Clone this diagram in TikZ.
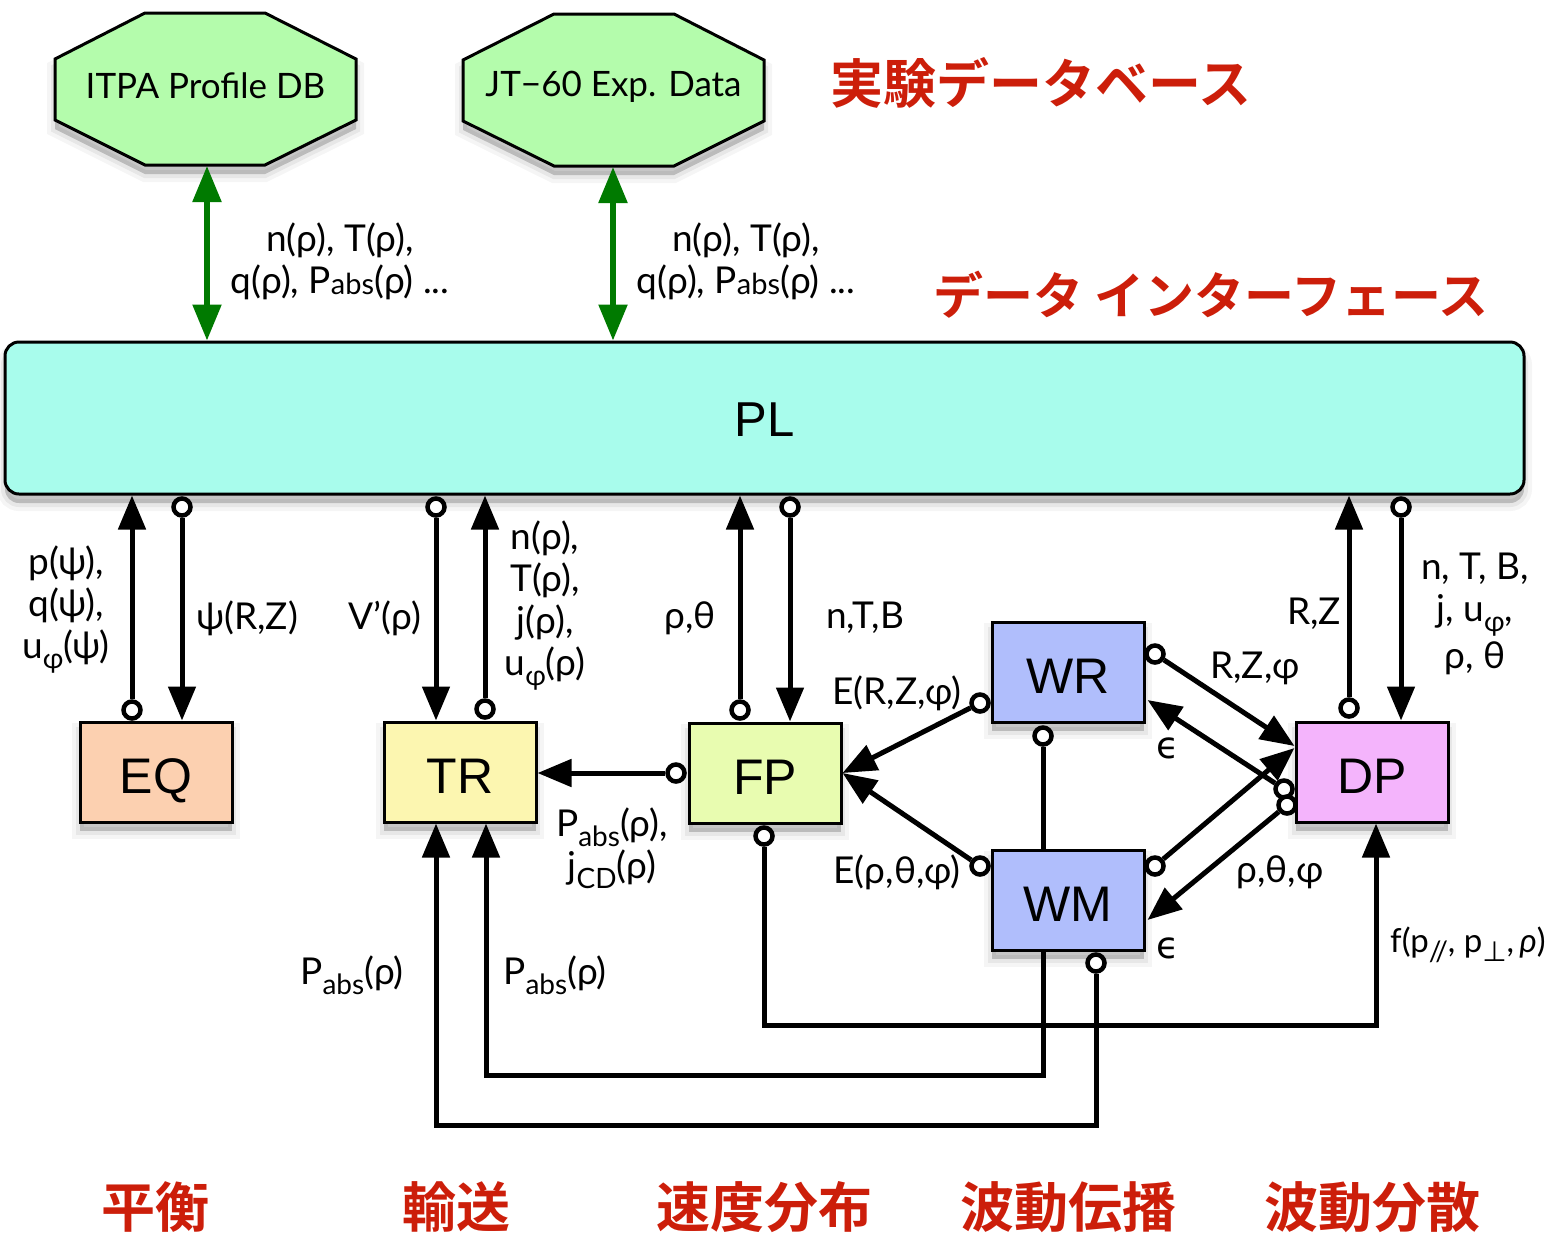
\documentclass[tikz,border=0pt]{standalone}
\usepackage{fontspec}
\setmainfont{Lato}
\newfontfamily\dvs{DejaVu Sans}
\newfontfamily\arialf{Liberation Sans}
\newfontfamily\jp{Noto Sans CJK JP Bold}
\usetikzlibrary{arrows.meta,shadows,calc}

\definecolor{plc}{RGB}{168,252,236}
\definecolor{eqc}{RGB}{252,208,176}
\definecolor{trc}{RGB}{252,246,176}
\definecolor{fpc}{RGB}{232,252,176}
\definecolor{wrc}{RGB}{176,190,252}
\definecolor{dpc}{RGB}{244,180,252}
\definecolor{octc}{RGB}{180,252,172}
\definecolor{jred}{RGB}{204,30,10}
\definecolor{dgreen}{RGB}{0,122,0}

\newcommand\lblf{\fontsize{37}{42}\selectfont}
\newcommand\boxf{\arialf\fontsize{50}{60}\selectfont}
\newcommand\jpf{\jp\fontsize{53}{60}\selectfont}
\newcommand\sbs[1]{\raisebox{-0.27em}{\fontsize{28}{28}\selectfont #1}}
\newcommand\smb[1]{\raisebox{-0.04em}{\fontsize{29}{29}\selectfont #1}}

\tikzset{
  softshadow/.style={
    general shadow={shadow xshift=0pt, shadow yshift=-9pt, fill=black, draw=black, line width=16pt, opacity=0.04},
    general shadow={shadow xshift=0pt, shadow yshift=-9pt, fill=black, draw=black, line width=8pt, opacity=0.06},
    general shadow={shadow xshift=0pt, shadow yshift=-9pt, fill=black, opacity=0.10}},
  lbl/.style={font=\lblf, align=center, inner sep=0pt},
  boxnode/.style={draw, line width=3pt, minimum width=152pt, minimum height=100pt, inner sep=0pt,
    font=\boxf, text height=42pt, text depth=0pt, softshadow},
  port/.style={circle, draw, fill=white, line width=4.5pt, minimum size=17pt, inner sep=0pt},
  arr/.style={line width=5pt, -{Triangle[length=34pt,width=27pt]}},
  link/.style={line width=5pt},
  garr/.style={line width=5.5pt, draw=dgreen, fill=dgreen, {Triangle[length=36pt,width=28pt]}-{Triangle[length=36pt,width=28pt]}},
  jlab/.style={font=\jpf, text=jred, inner sep=0pt},
  octtext/.style={font=\fontsize{35}{40}\selectfont, inner sep=0pt},
}

\begin{document}
\begin{tikzpicture}[x=1pt,y=-1pt]
\useasboundingbox (0,0) rectangle (1557,1235);

% octagons
\path[softshadow, fill=octc, draw=black, line width=3pt]
  (145,13) -- (265,13) -- (356,59) -- (356,120) -- (265,165) -- (145,165) -- (55,120) -- (55,59) -- cycle;
\path[softshadow, fill=octc, draw=black, line width=3pt]
  (554,14) -- (674,14) -- (764,60) -- (764,121) -- (674,166) -- (554,166) -- (463,121) -- (463,60) -- cycle;
\node[octtext] (itpa) at (205.5,86) {ITPA Profile DB};
\node[octtext] (jt) at (613.5,87) {JT\char"2212 60 Exp. Data};
\coordinate (itpab) at (207,166);
\coordinate (jtb) at (613,167);

% PL
\node[draw, line width=3pt, rounded corners=14pt, fill=plc, minimum width=1519pt, minimum height=152pt,
      inner sep=0pt, softshadow, font=\arialf\fontsize{49}{58}\selectfont, text height=37pt, text depth=0pt] (pl) at (764.5,418) {PL};

% boxes
\node[boxnode, fill=eqc] (eq) at (156,772) {EQ};
\node[boxnode, fill=trc] (tr) at (460,772) {TR};
\node[boxnode, fill=fpc] (fp) at (765,773) {FP};
\node[boxnode, fill=wrc] (wr) at (1068,672) {WR};
\node[boxnode, fill=wrc] (wm) at (1068,900) {WM};
\node[boxnode, fill=dpc] (dp) at (1372,772) {DP};

% green arrows
\draw[garr] (itpab) -- (itpab |- pl.north);
\draw[garr] (jtb) -- (jtb |- pl.north);

% ports
\node[port] (pEQu) at (132,710) {};
\node[port] (pEQd) at (182,507) {};
\node[port] (pTRd) at (436,507) {};
\node[port] (pTRu) at (485,709) {};
\node[port] (pFPu) at (740,710) {};
\node[port] (pFPd) at (790,507) {};
\node[port] (pDPu) at (1349,708) {};
\node[port] (pDPd) at (1401,507) {};
\node[port] (pFPl) at (676,773) {};
\node[port] (pWRl) at (980,703) {};
\node[port] (pWMl) at (980,866) {};
\node[port] (pWRb) at (1043,736) {};
\node[port] (pWRr) at (1155,654) {};
\node[port] (pDPa) at (1284,789) {};
\node[port] (pDPb) at (1287,805) {};
\node[port] (pWMr) at (1155,866) {};
\node[port] (pFPb) at (764,836) {};
\node[port] (pWMb) at (1096,963) {};

% PL connectors
\draw[arr] (pEQu) -- (pEQu |- pl.south);
\draw[arr] (pEQd) -- (pEQd |- eq.north);
\draw[arr] (pTRd) -- (pTRd |- tr.north);
\draw[arr] (pTRu) -- (pTRu |- pl.south);
\draw[arr] (pFPu) -- (pFPu |- pl.south);
\draw[arr] (pFPd) -- (pFPd |- fp.north);
\draw[arr] (pDPu) -- (pDPu |- pl.south);
\draw[arr] (pDPd) -- (pDPd |- dp.north);

% inner connectors
\draw[arr] (pFPl) -- (tr.east |- pFPl);
\draw[arr] (pWRl) -- (fp.east);
\draw[arr] (pWMl) -- (fp.east);
\draw[link] (pWRb) -- (pWRb |- wm.north);
\draw[arr] (pWRr) -- ($(dp.west)+(0,-26)$);
\draw[arr] (pWMr) -- ($(dp.west)+(0,-24)$);
\draw[arr] (pDPa) -- ($(wr.east)+(2,28)$);
\draw[arr] (pDPb) -- ($(wm.east)+(2,20)$);

% bottom routes
\coordinate (b1) at (764,1025);
\coordinate (b2) at (1043,1075);
\coordinate (b3) at (1096,1125);
\draw[arr] (pFPb) -- (b1) -| ($(dp.south)+(4,0)$);
\draw[arr] (b2 |- wm.south) -- (b2) -| ($(tr.south)+(26,0)$);
\draw[arr] (pWMb) -- (b3) -| ($(tr.south)+(-24,0)$);

% labels
\node[lbl] (l1) at (340,261) {n(ρ), T(ρ),\\ q(ρ), P\smb{abs}(ρ) ...};
\node[lbl] (l2) at (746,261) {n(ρ), T(ρ),\\ q(ρ), P\smb{abs}(ρ) ...};
\node[lbl] (l3) at (66,610) {p(ψ),\\ q(ψ),\\ u\sbs{φ}(ψ)};
\node[lbl] (l4) at (247,618) {ψ(R,Z)};
\node[lbl] (l5) at (385,618) {V{\char"27}(ρ)};
\node[lbl] (l6) at (545,606) {n(ρ),\\ T(ρ),\\ j(ρ),\\ u\sbs{φ}(ρ)};
\node[lbl] (l7) at (690,618) {ρ,θ};
\node[lbl] (l8) at (865,618) {n,T,B};
\node[lbl] (l9) at (1314,614) {R,Z};
\node[lbl] (l10) at (1475,614) {n, T, B,\\ j, u\sbs{φ},\\[5pt] ρ, θ};
\node[lbl] (l11) at (897,693) {E(R,Z,φ)};
\node[lbl] (l12) at (1255,668) {R,Z,φ};
\node[lbl] (l13) at (1168,748) {\dvs ϵ};
\node[lbl] (l14) at (612,848) {P\sbs{abs}(ρ),\\ j\sbs{CD}(ρ)};
\node[lbl] (l15) at (897,872) {E(ρ,θ,φ)};
\node[lbl] (l16) at (1280,872) {ρ,θ,φ};
\node[lbl] (l17) at (1168,948) {\dvs ϵ};
\node[lbl, font=\fontsize{33}{40}\selectfont] (l18) at (1468,945) {f(p\sbs{//}, p\sbs{\dvs ⊥},\,\textit{ρ})};
\node[lbl] (l19) at (352,975) {P\sbs{abs}(ρ)};
\node[lbl] (l20) at (555,975) {P\sbs{abs}(ρ)};

% Japanese titles
\node[jlab] (j1) at (1041,83) {実験データベース};
\node[jlab, font=\jp\fontsize{50}{60}\selectfont] (j2) at (1211,295) {データ インターフェース};
\node[jlab, font=\jp\fontsize{54}{60}\selectfont] (j3) at (155,1207) {平衡};
\node[jlab, font=\jp\fontsize{54}{60}\selectfont] (j4) at (456,1207) {輸送};
\node[jlab, font=\jp\fontsize{54}{60}\selectfont] (j5) at (764,1207) {速度分布};
\node[jlab, font=\jp\fontsize{54}{60}\selectfont] (j6) at (1068,1207) {波動伝播};
\node[jlab, font=\jp\fontsize{54}{60}\selectfont] (j7) at (1372,1207) {波動分散};
\end{tikzpicture}
\end{document}
